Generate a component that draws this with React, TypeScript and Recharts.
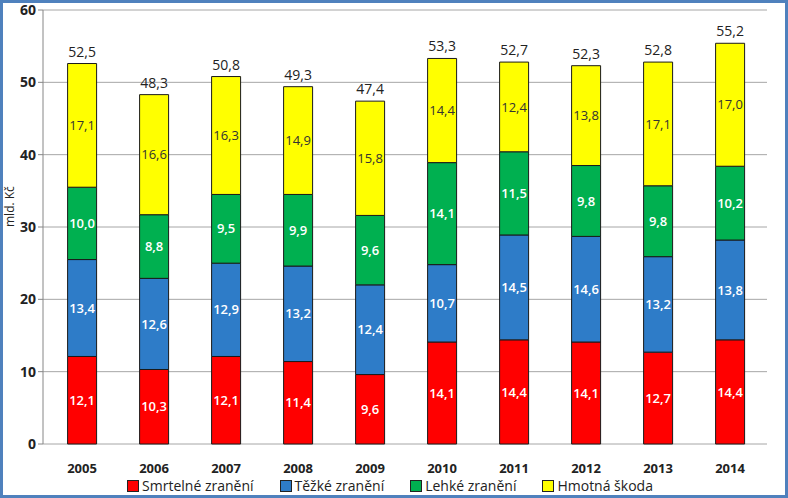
import { Bar, BarChart, CartesianGrid, LabelList, Legend, XAxis, YAxis } from "recharts";

const years = ["2005", "2006", "2007", "2008", "2009", "2010", "2011", "2012", "2013", "2014"];
const smrtelne = [12.1, 10.3, 12.1, 11.4, 9.6, 14.1, 14.4, 14.1, 12.7, 14.4];
const tezke = [13.4, 12.6, 12.9, 13.2, 12.4, 10.7, 14.5, 14.6, 13.2, 13.8];
const lehke = [10.0, 8.8, 9.5, 9.9, 9.6, 14.1, 11.5, 9.8, 9.8, 10.2];
const hmotna = [17.1, 16.6, 16.3, 14.9, 15.8, 14.4, 12.4, 13.8, 17.1, 17.0];
const totals = [52.5, 48.3, 50.8, 49.3, 47.4, 53.3, 52.7, 52.3, 52.8, 55.2];
const yTicks = [0, 10, 20, 30, 40, 50, 60];

const series = [
  { key: "smrtelne", name: "Smrtelné zranění", color: "#FF0000" },
  { key: "tezke", name: "Těžké zranění", color: "#2E7CC8" },
  { key: "lehke", name: "Lehké zranění", color: "#00B050" },
  { key: "hmotna", name: "Hmotná škoda", color: "#FFFF00" },
];

const data = years.map((year, i) => ({
  year,
  smrtelne: smrtelne[i],
  tezke: tezke[i],
  lehke: lehke[i],
  hmotna: hmotna[i],
  total: totals[i],
}));

const FONT = "'Open Sans', sans-serif";
const fmt = (v: unknown) => Number(v).toFixed(1).replace(".", ",");

function LegendBox() {
  return (
    <div style={{ display: "flex", justifyContent: "center", gap: 26, fontFamily: FONT, fontSize: 14, color: "#222", marginTop: -2 }}>
      {series.map((s) => (
        <div key={s.key} style={{ display: "flex", alignItems: "center", gap: 3 }}>
          <span style={{ width: 10, height: 10, background: s.color, border: "1px solid #222", display: "inline-block" }} />
          <span>{s.name}</span>
        </div>
      ))}
    </div>
  );
}

export default function App() {
  return (
    <div style={{ position: "fixed", left: 0, top: 0, width: 788, height: 498, background: "#fff" }}>
      <BarChart width={788} height={498} data={data} margin={{ top: 10, right: 21, left: 13, bottom: 0 }} barCategoryGap="30%">
        <CartesianGrid vertical={false} stroke="#A6A6A6" />
        <XAxis
          xAxisId="marks"
          type="number"
          domain={[0, 10]}
          ticks={[0, 1, 2, 3, 4, 5, 6, 7, 8, 9, 10]}
          allowDataOverflow
          height={0}
          tickSize={5}
          tickFormatter={() => ""}
          stroke="#868686"
        />
        <XAxis
          dataKey="year"
          height={34}
          axisLine={false}
          tickLine={false}
          tickMargin={14}
          padding={{ left: 3, right: 1 }}
          tick={{ fontFamily: FONT, fontSize: 13, fontWeight: 700, fill: "#222" }}
        />
        <YAxis
          width={30}
          domain={[0, 60]}
          ticks={yTicks}
          interval={0}
          tickSize={5}
          stroke="#868686"
          tick={{ fontFamily: FONT, fontSize: 14, fontWeight: 700, fill: "#222" }}
          label={{ value: "mld. Kč", angle: -90, position: "insideLeft", dx: -8, style: { fontFamily: FONT, fontSize: 12, fill: "#222" } }}
        />
        <Legend verticalAlign="bottom" height={20} content={() => <LegendBox />} />
        {series.map((s) => (
          <Bar key={s.key} dataKey={s.key} name={s.name} stackId="a" fill={s.color} stroke="#1a1a1a" strokeWidth={1} isAnimationActive={false}>
            <LabelList
              dataKey={s.key}
              position="center"
              formatter={fmt}
              style={{ fontFamily: FONT, fontSize: 13, fill: s.key === "hmotna" ? "#333" : "#fff", fontWeight: s.key === "hmotna" ? 400 : 600 }}
            />
            {s.key === "hmotna" && (
              <LabelList dataKey="total" position="top" offset={7} formatter={fmt} style={{ fontFamily: FONT, fontSize: 14, fill: "#222" }} />
            )}
          </Bar>
        ))}
      </BarChart>
      <div style={{ position: "absolute", inset: 0, border: "3px solid #4F81BD", pointerEvents: "none" }} />
    </div>
  );
}
